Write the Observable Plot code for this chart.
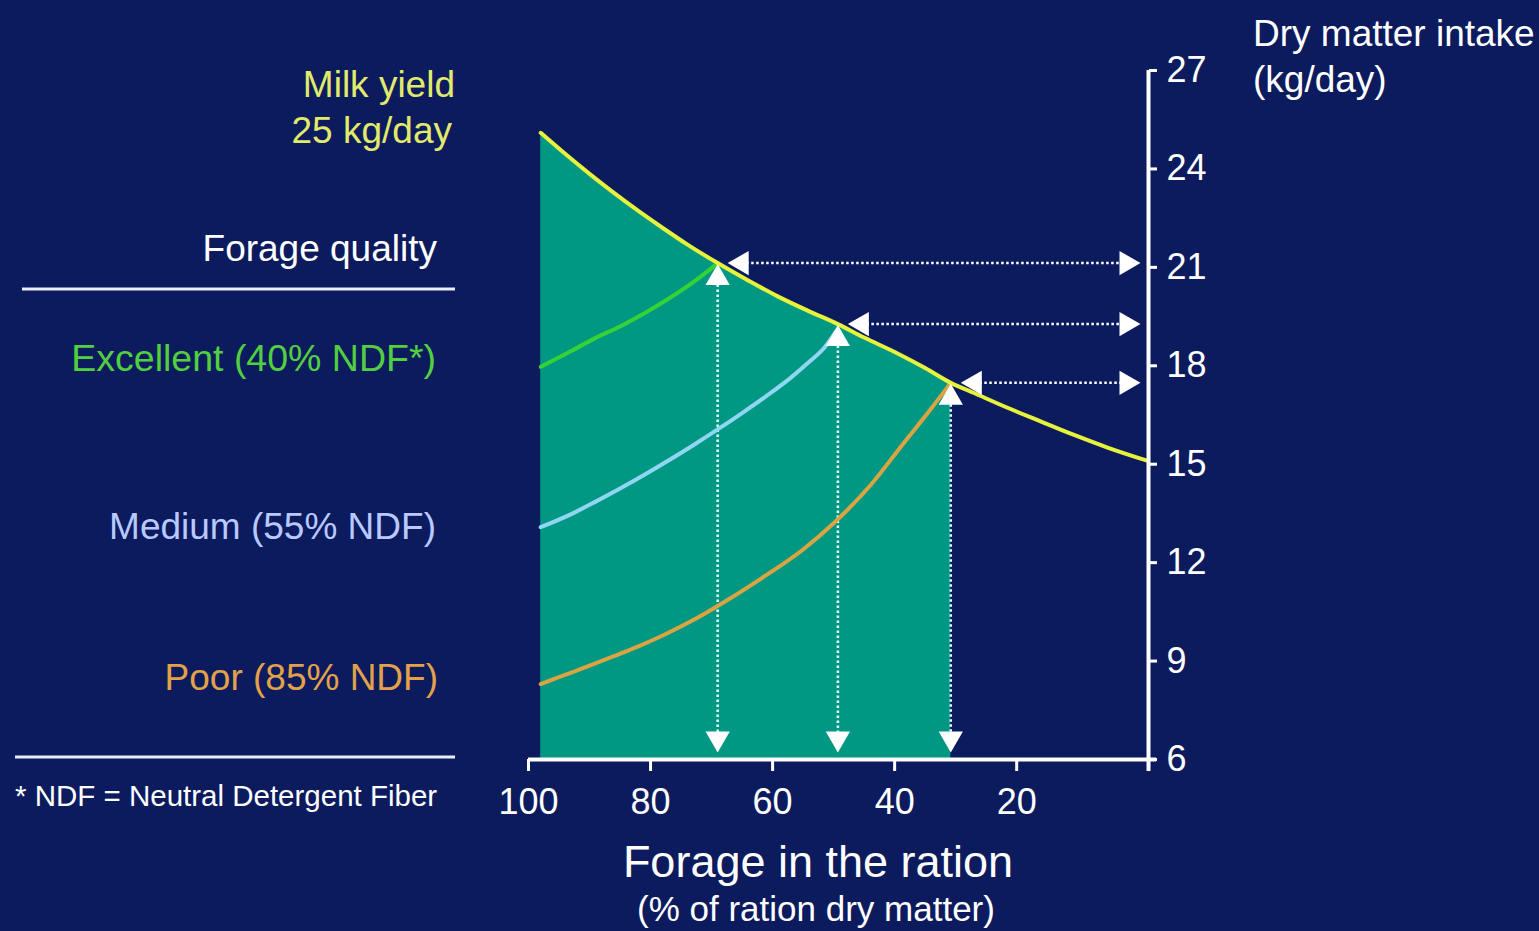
<!DOCTYPE html>
<html>
<head>
<meta charset="utf-8">
<script src="https://cdn.jsdelivr.net/npm/d3@7"></script>
<script src="https://cdn.jsdelivr.net/npm/@observablehq/plot@0.6"></script>
<style>
html, body { margin: 0; padding: 0; background: #0c1b5e; }
#wrap { position: relative; width: 1539px; height: 931px; overflow: hidden; background: #0c1b5e; }
#wrap svg { position: absolute; left: 0; top: 0; }
</style>
</head>
<body>
<div id="wrap"></div>
<script>
// ---- data ----
const xTicks = [100, 80, 60, 40, 20];
const yTicks = [6, 9, 12, 15, 18, 21, 24, 27];

// Dry matter intake capacity, milk yield 25 kg/day
const milkX = [98, 94, 90, 86, 82, 78, 74, 69, 64, 59, 54, 49.3, 45, 40, 35, 30.8, 27, 21.5, 16, 10.7, 5, -1.5];
const milkY = [25.1, 24.46, 23.85, 23.27, 22.72, 22.2, 21.7, 21.13, 20.6, 20.1, 19.66, 19.27, 18.86, 18.42, 17.93, 17.48, 17.17, 16.72, 16.3, 15.9, 15.5, 15.1];

// Forage quality curves
const excX = [98, 93, 89, 85, 81, 77, 73, 70.5, 69];
const excY = [17.97, 18.45, 18.85, 19.2, 19.6, 20.05, 20.55, 20.9, 21.13];

const medX = [98, 93, 89, 85, 81, 77, 73, 69, 65, 61, 57, 54, 51.5, 49.6];
const medY = [13.08, 13.48, 13.86, 14.26, 14.68, 15.12, 15.58, 16.06, 16.56, 17.08, 17.64, 18.12, 18.56, 19.05];

const poorX = [98, 94, 90, 86, 82, 78, 73, 69, 62, 55, 50, 44, 38.5, 34, 30.8];
const poorY = [8.3, 8.58, 8.86, 9.15, 9.45, 9.78, 10.25, 10.68, 11.5, 12.4, 13.2, 14.35, 15.65, 16.7, 17.48];

// Intersections marked with arrows
const arrowX = [69, 49.3, 30.8];
const arrowY = [21.13, 19.27, 17.48];

const xDomain = [100, -1.6];
const yDomain = [6, 27];

// ---- build tables ----
const zip = (xs, ys) => xs.map((x, i) => ({x, y: ys[i]}));
const milk = zip(milkX, milkY);
const exc = zip(excX, excY);
const med = zip(medX, medY);
const poor = zip(poorX, poorY);
const arrows = zip(arrowX, arrowY);
const teal = milk.filter(d => d.x >= arrowX[arrowX.length - 1]);
const xEnd = xDomain[1];

const FONT = '"Liberation Sans", Arial, sans-serif';
const W = 1539, H = 931;

const chart = Plot.plot({
  width: W,
  height: H,
  marginTop: 70,
  marginBottom: 172,
  marginLeft: 528,
  marginRight: 391,
  style: {background: "transparent", color: "white", fontFamily: FONT, overflow: "visible"},
  x: {domain: xDomain, type: "linear"},
  y: {domain: yDomain, type: "linear"},
  marks: [
    Plot.areaY(teal, {x: "x", y1: yDomain[0], y2: "y", fill: "#009783", curve: "monotone-x"}),
    // dotted arrow shafts
    Plot.ruleX(arrows, {x: "x", y1: "y", y2: yDomain[0], stroke: "#e8ffff", strokeWidth: 2.5, strokeDasharray: "2.5 2.5", insetTop: 12, insetBottom: 12}),
    Plot.ruleY(arrows, {y: "y", x1: "x", x2: xEnd, stroke: "white", strokeWidth: 2.5, strokeDasharray: "2.5 2.5", insetLeft: 14, insetRight: 14}),
    // curves
    Plot.line(poor, {x: "x", y: "y", stroke: "#d9a441", strokeWidth: 4, curve: "monotone-x"}),
    Plot.line(med, {x: "x", y: "y", stroke: "#8fd6f2", strokeWidth: 4, curve: "monotone-x"}),
    Plot.line(exc, {x: "x", y: "y", stroke: "#34d137", strokeWidth: 4, curve: "monotone-x"}),
    Plot.line(milk, {x: "x", y: "y", stroke: "#e6f23c", strokeWidth: 4, curve: "monotone-x"}),
    // arrow heads
    Plot.dot(arrows, {x: "x", y: "y", symbol: "triangle", r: 9, fill: "white", dy: 15}),
    Plot.dot(arrows, {x: "x", y: yDomain[0], symbol: "triangle", r: 9, fill: "white", rotate: 180, dy: -21}),
    Plot.dot(arrows, {x: "x", y: "y", symbol: "triangle", r: 9, fill: "white", rotate: -90, dx: 24}),
    Plot.dot(arrows, {x: xEnd, y: "y", symbol: "triangle", r: 9, fill: "white", rotate: 90, dx: -22}),
    // axes
    Plot.ruleY([yDomain[0]], {stroke: "white", strokeWidth: 4, insetRight: -8}),
    Plot.ruleX([xEnd], {y1: yDomain[1], y2: yDomain[0], stroke: "white", strokeWidth: 4, insetBottom: -12}),
    Plot.axisX({ticks: xTicks, tickSize: 12, tickPadding: 17, strokeWidth: 3, fontSize: 36, fill: "white", stroke: "white", label: null}),
    Plot.axisY({anchor: "right", ticks: yTicks, tickSize: 8, tickPadding: 10, strokeWidth: 3, fontSize: 36, fill: "white", stroke: "white", label: null})
  ]
});
document.getElementById("wrap").appendChild(chart);

// ---- annotation overlay (labels, legend, axis titles) ----
const over = d3.select("#wrap").append("svg")
  .attr("width", W).attr("height", H)
  .style("font-family", FONT)
  .style("pointer-events", "none");

const labels = [
  {t: "Milk yield", x: 455, y: 97, a: "end", s: 37, c: "#e2ea6c"},
  {t: "25 kg/day", x: 452, y: 143, a: "end", s: 37, c: "#e2ea6c"},
  {t: "Forage quality", x: 437, y: 261, a: "end", s: 37, c: "#ffffff"},
  {t: "Excellent (40% NDF*)", x: 436, y: 371, a: "end", s: 37.5, c: "#52cf3f"},
  {t: "Medium (55% NDF)", x: 436, y: 539, a: "end", s: 37, c: "#b7c9ff"},
  {t: "Poor (85% NDF)", x: 438, y: 690, a: "end", s: 37, c: "#e2a24a"},
  {t: "* NDF = Neutral Detergent Fiber", x: 15, y: 806, a: "start", s: 29.5, c: "#ffffff"},
  {t: "Dry matter intake", x: 1253, y: 46, a: "start", s: 37, c: "#ffffff"},
  {t: "(kg/day)", x: 1253, y: 92, a: "start", s: 37, c: "#ffffff"},
  {t: "Forage in the ration", x: 818, y: 877, a: "middle", s: 45, c: "#ffffff"},
  {t: "(% of ration dry matter)", x: 816, y: 921, a: "middle", s: 35, c: "#ffffff"}
];
over.selectAll("text").data(labels).join("text")
  .attr("x", d => d.x).attr("y", d => d.y)
  .attr("text-anchor", d => d.a)
  .attr("font-size", d => d.s)
  .attr("fill", d => d.c)
  .text(d => d.t);

const seps = [{y: 289, x1: 22, x2: 455}, {y: 757, x1: 15, x2: 455}];
over.selectAll("line").data(seps).join("line")
  .attr("x1", d => d.x1).attr("x2", d => d.x2)
  .attr("y1", d => d.y).attr("y2", d => d.y)
  .attr("stroke", "#e8eeff").attr("stroke-width", 3);
</script>
</body>
</html>
